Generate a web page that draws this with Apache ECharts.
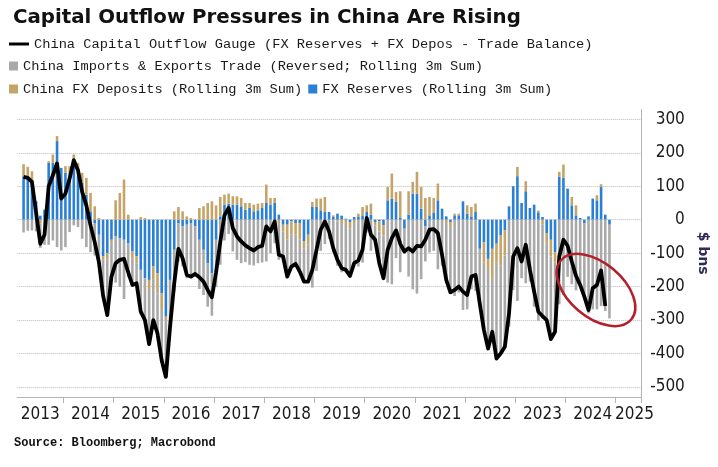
<!DOCTYPE html>
<html>
<head>
<meta charset="utf-8">
<script src="https://cdn.jsdelivr.net/npm/echarts@6/dist/echarts.min.js"></script>
<style>
html,body{margin:0;padding:0;background:#fff;}
#chart{width:718px;height:467px;}
</style>
</head>
<body>
<div id="chart"></div>
<script>
// Monthly categories: Feb 2013 .. Jun 2025
const startYear = 2013, startMonth = 2, monthCount = 149;
const categories = [];
for (let k = 0; k < monthCount; k++) {
  const m = startMonth - 1 + k;
  const y = startYear + Math.floor(m / 12);
  const mm = (m % 12) + 1;
  categories.push(y + '-' + (mm < 10 ? '0' + mm : '' + mm));
}
const yearLabels = ['2013','2014','2015','2016','2017','2018','2019','2020','2021','2022','2023','2024','2025'];
const yTickValues = [-500,-400,-300,-200,-100,0,100,200,300];

// Data from Mar 2013 (bars to Nov 2024, line to Oct 2024), $ bns
const fxReserves = [
 130,128,120,55,12,30,170,170,235,155,
 140,120,165,130,110,75,25,-10,-45,-110,
 -100,-60,-50,-55,-60,-70,-95,-110,-150,-175,
 -180,-140,-160,-220,-290,-180,-90,-10,-20,-15,
 -10,-20,-60,-90,-130,-160,-60,10,45,48,
 45,45,40,30,35,25,28,35,50,45,
 50,15,-15,-15,-5,-10,-10,-65,-45,38,
 38,28,23,23,8,18,12,3,-7,8,
 8,13,23,15,-7,-5,-17,58,63,53,
 5,-27,15,78,78,33,-20,13,20,58,
 33,10,-7,13,13,55,18,8,23,-87,
 -67,-117,-87,-72,-47,-32,40,100,130,50,
 85,35,45,22,8,-40,-60,-97,128,125,
 93,43,13,5,-10,10,63,58,98,15,
 -15
];
const fxDeposits = [
 36,30,25,0,-12,0,5,25,15,0,
 20,40,30,40,30,50,55,40,5,-10,
 -20,-10,58,80,120,15,-20,-20,8,5,
 -30,-40,-60,-50,-10,0,25,38,25,10,
 5,0,35,40,50,55,43,58,30,30,
 25,25,25,20,15,20,20,15,55,20,
 15,-10,-20,-45,-40,-35,-50,-20,-30,15,
 25,35,45,0,5,-5,-10,-10,-20,-10,
 10,25,20,33,-10,-30,-30,40,75,30,
 80,0,70,35,65,65,65,55,45,50,
 0,-10,-15,5,5,0,25,30,25,0,
 -60,-30,-90,-55,-90,-75,0,0,28,0,
 30,0,0,5,-15,-30,-50,-30,15,40,
 0,25,30,0,0,0,0,15,8,0,
 0
];
const tradeReversed = [
 -38,-33,-32,-35,-72,-75,-75,-62,-82,-92,
 -82,-37,-17,-22,-57,-82,-97,-97,-87,-107,
 -165,-100,-138,-145,-177,-102,-80,-60,-133,-130,
 -162,-120,-120,-150,-170,-140,-125,-115,-120,-160,
 -165,-142,-147,-135,-130,-127,-140,-135,-62,-43,
 -95,-120,-130,-127,-135,-137,-130,-128,-125,-100,
 -70,-110,-75,-110,-95,-87,-95,-100,-110,-203,
 -153,-93,-73,-58,-98,-133,-147,-143,-141,-128,
 -140,-128,-38,-93,-43,-95,-128,-188,-193,-115,
 -157,-68,-170,-208,-221,-178,-105,-98,-93,-148,
 -138,-180,-195,-228,-218,-270,-268,-208,-213,-163,
 -203,-238,-158,-288,-263,-273,-320,-210,-243,-175,
 -190,-185,-260,-302,-281,-230,-247,-208,-253,-225,
 -171,-193,-211,-200,-220,-280,-268,-268,-258,-273,
 -280
];
const outflowGauge = [
 128,125,113,20,-72,-45,100,133,168,63,
 78,123,178,148,83,43,-17,-67,-127,-227,
 -285,-170,-130,-120,-117,-157,-195,-190,-275,-300,
 -372,-300,-340,-420,-470,-320,-190,-87,-115,-165,
 -170,-162,-172,-185,-210,-232,-157,-67,13,35,
 -25,-50,-65,-77,-85,-92,-82,-78,-20,-35,
 -5,-105,-110,-170,-140,-132,-155,-185,-185,-150,
 -90,-30,-5,-35,-85,-120,-145,-150,-168,-130,
 -122,-90,5,-45,-60,-130,-175,-90,-55,-32,
 -72,-95,-85,-95,-78,-80,-60,-30,-28,-40,
 -105,-180,-217,-210,-200,-215,-225,-170,-165,-250,
 -330,-385,-335,-415,-400,-380,-280,-110,-85,-125,
 -75,-150,-215,-275,-288,-300,-357,-335,-110,-60,
 -78,-125,-168,-195,-230,-270,-205,-195,-152,-258
];
const dataOffset = 1; // first value is Mar 2013 (category index 1)

function pad(arr) {
  const out = new Array(monthCount).fill(null);
  for (let i = 0; i < arr.length; i++) out[dataOffset + i] = arr[i];
  return out;
}

const names = {
  line: 'China Capital Outflow Gauge (FX Reserves + FX Depos - Trade Balance)',
  trade: 'China Imports & Exports Trade (Reversed; Rolling 3m Sum)',
  dep: 'China FX Deposits (Rolling 3m Sum)',
  res: 'FX Reserves (Rolling 3m Sum)'
};
const colors = { line: '#000000', trade: '#a9a9a9', dep: '#c4a468', res: '#2a7fd6' };
const narrow = "'Liberation Sans Narrow','DejaVu Sans Condensed','Arial Narrow',sans-serif";
const mono = "'Liberation Mono','DejaVu Sans Mono',monospace";

const chart = echarts.init(document.getElementById('chart'), null, { renderer: 'canvas' });

const legendText = { fontFamily: mono, fontSize: 13.7, color: '#1a1a1a' };

const option = {
  backgroundColor: '#ffffff',
  animation: false,
  title: [
    { text: 'Capital Outflow Pressures in China Are Rising', left: 8, top: 3,
      textStyle: { fontFamily: "'DejaVu Sans',sans-serif", fontWeight: 'bold', fontSize: 19.8, color: '#111' } },
    { text: 'Source: Bloomberg; Macrobond', left: 9, top: 432,
      textStyle: { fontFamily: mono, fontWeight: 'bold', fontSize: 12, color: '#111' } }
  ],
  legend: [
    { data: [{ name: names.line, icon: 'rect' }], left: 9, top: 37, itemWidth: 20, itemHeight: 3,
      padding: 0, textStyle: legendText, selectedMode: false },
    { data: [{ name: names.trade, icon: 'rect' }], left: 9, top: 59, itemWidth: 9, itemHeight: 9,
      padding: 0, textStyle: legendText, selectedMode: false },
    { data: [{ name: names.dep, icon: 'rect' }, { name: names.res, icon: 'rect' }], left: 9, top: 82,
      itemWidth: 9, itemHeight: 9, itemGap: 6, padding: 0, textStyle: legendText, selectedMode: false }
  ],
  grid: { left: 17.3, right: 77.15, top: 109.3, bottom: 70, containLabel: false },
  xAxis: {
    type: 'category', data: categories, boundaryGap: true,
    axisLine: { show: true, onZero: false, lineStyle: { color: '#b4b4b4', width: 1 } },
    axisTick: { show: true, length: 6, lineStyle: { color: '#b4b4b4' },
      interval: function (idx, val) { return val.slice(5) === '01'; } },
    axisLabel: {
      interval: function (idx, val) { return val.slice(5) === '07' || val === '2025-05'; },
      formatter: function (val) { const y = val.slice(0, 4); return yearLabels.indexOf(y) >= 0 ? y : ''; },
      fontFamily: narrow, fontSize: 17, color: '#1a1a1a', margin: 9
    },
    splitLine: { show: false }
  },
  yAxis: {
    type: 'value', position: 'right', min: -530, max: 330,
    axisLine: { show: true, lineStyle: { color: '#b4b4b4', width: 1 } },
    axisTick: { show: false, customValues: yTickValues },
    axisLabel: { customValues: yTickValues, align: 'right', margin: 44, fontFamily: narrow, fontSize: 17, color: '#1a1a1a' },
    splitLine: { show: true, lineStyle: { type: 'dotted', color: '#bcbcbc', width: 1 } },
    name: '$ bns', nameLocation: 'middle', nameRotate: -90, nameGap: 54,
    nameTextStyle: { fontFamily: "'DejaVu Sans',sans-serif", fontSize: 14, fontWeight: 'bold', color: '#2d2d55' }
  },
  series: [
    { name: names.res, type: 'bar', stack: 'total', data: pad(fxReserves), barWidth: '62%',
      itemStyle: { color: colors.res }, emphasis: { disabled: true } },
    { name: names.dep, type: 'bar', stack: 'total', data: pad(fxDeposits), barWidth: '62%',
      itemStyle: { color: colors.dep }, emphasis: { disabled: true } },
    { name: names.trade, type: 'bar', stack: 'total', data: pad(tradeReversed), barWidth: '62%',
      itemStyle: { color: colors.trade }, emphasis: { disabled: true } },
    { name: names.line, type: 'line', data: pad(outflowGauge), symbol: 'none', z: 5,
      lineStyle: { color: colors.line, width: 3.8, join: 'round' }, itemStyle: { color: colors.line },
      emphasis: { disabled: true } }
  ],
  graphic: [
    { type: 'ellipse', x: 596, y: 290, rotation: -40 * Math.PI / 180,
      shape: { cx: 0, cy: 0, rx: 46, ry: 27 },
      style: { fill: 'none', stroke: '#b3202a', lineWidth: 2.5 }, z: 100 }
  ]
};
chart.setOption(option);
</script>
</body>
</html>
